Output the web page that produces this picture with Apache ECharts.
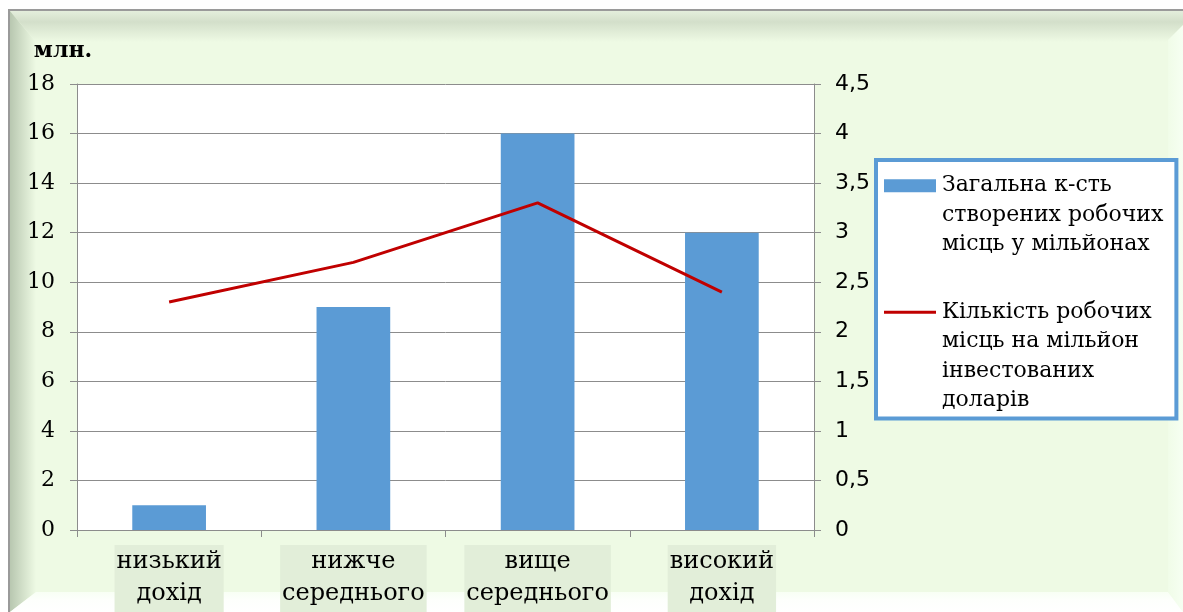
<!DOCTYPE html>
<html>
<head>
<meta charset="utf-8">
<script src="https://cdn.jsdelivr.net/npm/echarts@6/dist/echarts.min.js"></script>
<style>html,body{margin:0;padding:0;background:#fff}#c{width:1183px;height:612px}</style>
</head>
<body>
<div id="c"></div>
<script>
const categories = ['низький\nдохід', 'нижче\nсереднього', 'вище\nсереднього', 'високий\nдохід'];
const jobsTotal = [1, 9, 16, 12];
const jobsPerMillion = [2.3, 2.7, 3.3, 2.4];
const leftTicks = { min: 0, max: 18, interval: 2 };
const rightTicks = { min: 0, max: 4.5, interval: 0.5 };
const seriesNames = ['Загальна к-сть створених робочих місць у мільйонах', 'Кількість робочих місць на мільйон інвестованих доларів'];
const legendLines = {
  [seriesNames[0]]: ['Загальна к-сть', 'створених робочих', 'місць у мільйонах'],
  [seriesNames[1]]: ['Кількість робочих', 'місць на мільйон', 'інвестованих', 'доларів']
};

const chart = echarts.init(document.getElementById('c'), null, { renderer: 'canvas' });
const gray = '#8c8c8c';
const bg = '#EEFAE4';
const option = {
  animation: false,
  backgroundColor: '#fff',
  graphic: [
    { type: 'rect', z: -10, silent: true, shape: { x: 9, y: 10, width: 1180, height: 610 },
      style: { fill: bg, stroke: '#9a9a9a', lineWidth: 2 } },
    { type: 'polygon', z: -9, silent: true, shape: { points: [[10, 11], [1183, 11], [1183, 42], [36, 42]] },
      style: { fill: new echarts.graphic.LinearGradient(0, 0, 0, 1, [
        { offset: 0, color: '#e4eedc' }, { offset: 0.35, color: '#d3dfca' }, { offset: 1, color: bg }]) } },
    { type: 'polygon', z: -9, silent: true, shape: { points: [[10, 11], [36, 42], [36, 592], [10, 612]] },
      style: { fill: new echarts.graphic.LinearGradient(0, 0, 1, 0, [
        { offset: 0, color: '#b8c7b0' }, { offset: 1, color: bg }]) } },
    { type: 'polygon', z: -9, silent: true, shape: { points: [[1168, 40], [1183, 25], [1183, 612], [1168, 592]] },
      style: { fill: new echarts.graphic.LinearGradient(0, 0, 1, 0, [
        { offset: 0, color: '#f0fce8' }, { offset: 1, color: '#f6fff2' }]) } },
    { type: 'polygon', z: -9, silent: true, shape: { points: [[36, 592], [1168, 592], [1183, 612], [10, 612]] },
      style: { fill: new echarts.graphic.LinearGradient(0, 0, 0, 1, [
        { offset: 0, color: '#f8fff4' }, { offset: 0.4, color: '#fdfffc' }, { offset: 1, color: '#ffffff' }]) } }
  ],
  grid: { left: 77, right: 369, top: 84, bottom: 82, show: true, backgroundColor: '#fff', borderWidth: 0, containLabel: false },
  legend: {
    orient: 'vertical', left: 876, top: 160,
    padding: [11, 13, 3, 3],
    backgroundColor: '#fff', borderColor: '#5B9BD5', borderWidth: 4,
    itemWidth: 0, itemHeight: 0, itemGap: 38, icon: 'rect',
    data: seriesNames,
    formatter: function (name) {
      const lines = legendLines[name];
      const icon = name === seriesNames[0] ? '{bar|}' : '{ln|}';
      return lines.map((l, i) => (i === 0 ? icon + '{t|' + l + '}' : '{sp|}{t|' + l + '}')).join('\n');
    },
    textStyle: {
      fontFamily: 'DejaVu Serif', fontSize: 22, lineHeight: 29.5, color: '#000',
      rich: {
        bar: { width: 52, height: 13, backgroundColor: '#5B9BD5' },
        ln: { width: 52, height: 3, backgroundColor: '#C00000' },
        sp: { width: 52 },
        t: { fontFamily: 'DejaVu Serif', fontSize: 22, lineHeight: 29.5, color: '#000', padding: [0, 0, 0, 6] }
      }
    }
  },
  xAxis: {
    type: 'category', data: categories,
    axisLine: { show: true, lineStyle: { color: gray, width: 1 } },
    axisTick: { show: true, length: 7, lineStyle: { color: gray } },
    axisLabel: {
      interval: 0, margin: 15, color: '#000', fontFamily: 'DejaVu Serif', fontSize: 24, lineHeight: 32,
      backgroundColor: '#E2EED9', padding: [1, 2, 2, 2]
    }
  },
  yAxis: [
    {
      type: 'value', min: leftTicks.min, max: leftTicks.max, interval: leftTicks.interval,
      name: 'млн.', nameLocation: 'end', nameGap: 22,
      nameTextStyle: { fontFamily: 'DejaVu Serif', fontWeight: 'bold', fontSize: 22, color: '#000', align: 'center', padding: [0, 28, 0, 0] },
      axisLine: { show: true, lineStyle: { color: gray } },
      axisTick: { show: true, length: 7, lineStyle: { color: gray } },
      axisLabel: { margin: 22, color: '#000', fontFamily: 'DejaVu Serif', fontSize: 22 },
      splitLine: { show: true, lineStyle: { color: gray, width: 1 } }
    },
    {
      type: 'value', min: rightTicks.min, max: rightTicks.max, interval: rightTicks.interval, position: 'right',
      axisLine: { show: true, lineStyle: { color: gray } },
      axisTick: { show: true, length: 7, lineStyle: { color: gray } },
      axisLabel: { margin: 21, color: '#000', fontFamily: 'DejaVu Sans', fontSize: 22,
        formatter: v => String(v).replace('.', ',') },
      splitLine: { show: false }
    }
  ],
  series: [
    { name: seriesNames[0], type: 'bar', data: jobsTotal, yAxisIndex: 0, barWidth: '40%',
      itemStyle: { color: '#5B9BD5' } },
    { name: seriesNames[1], type: 'line', data: jobsPerMillion, yAxisIndex: 1, symbol: 'none',
      lineStyle: { color: '#C00000', width: 3 }, itemStyle: { color: '#C00000' } }
  ]
};
chart.setOption(option);
</script>
</body>
</html>
